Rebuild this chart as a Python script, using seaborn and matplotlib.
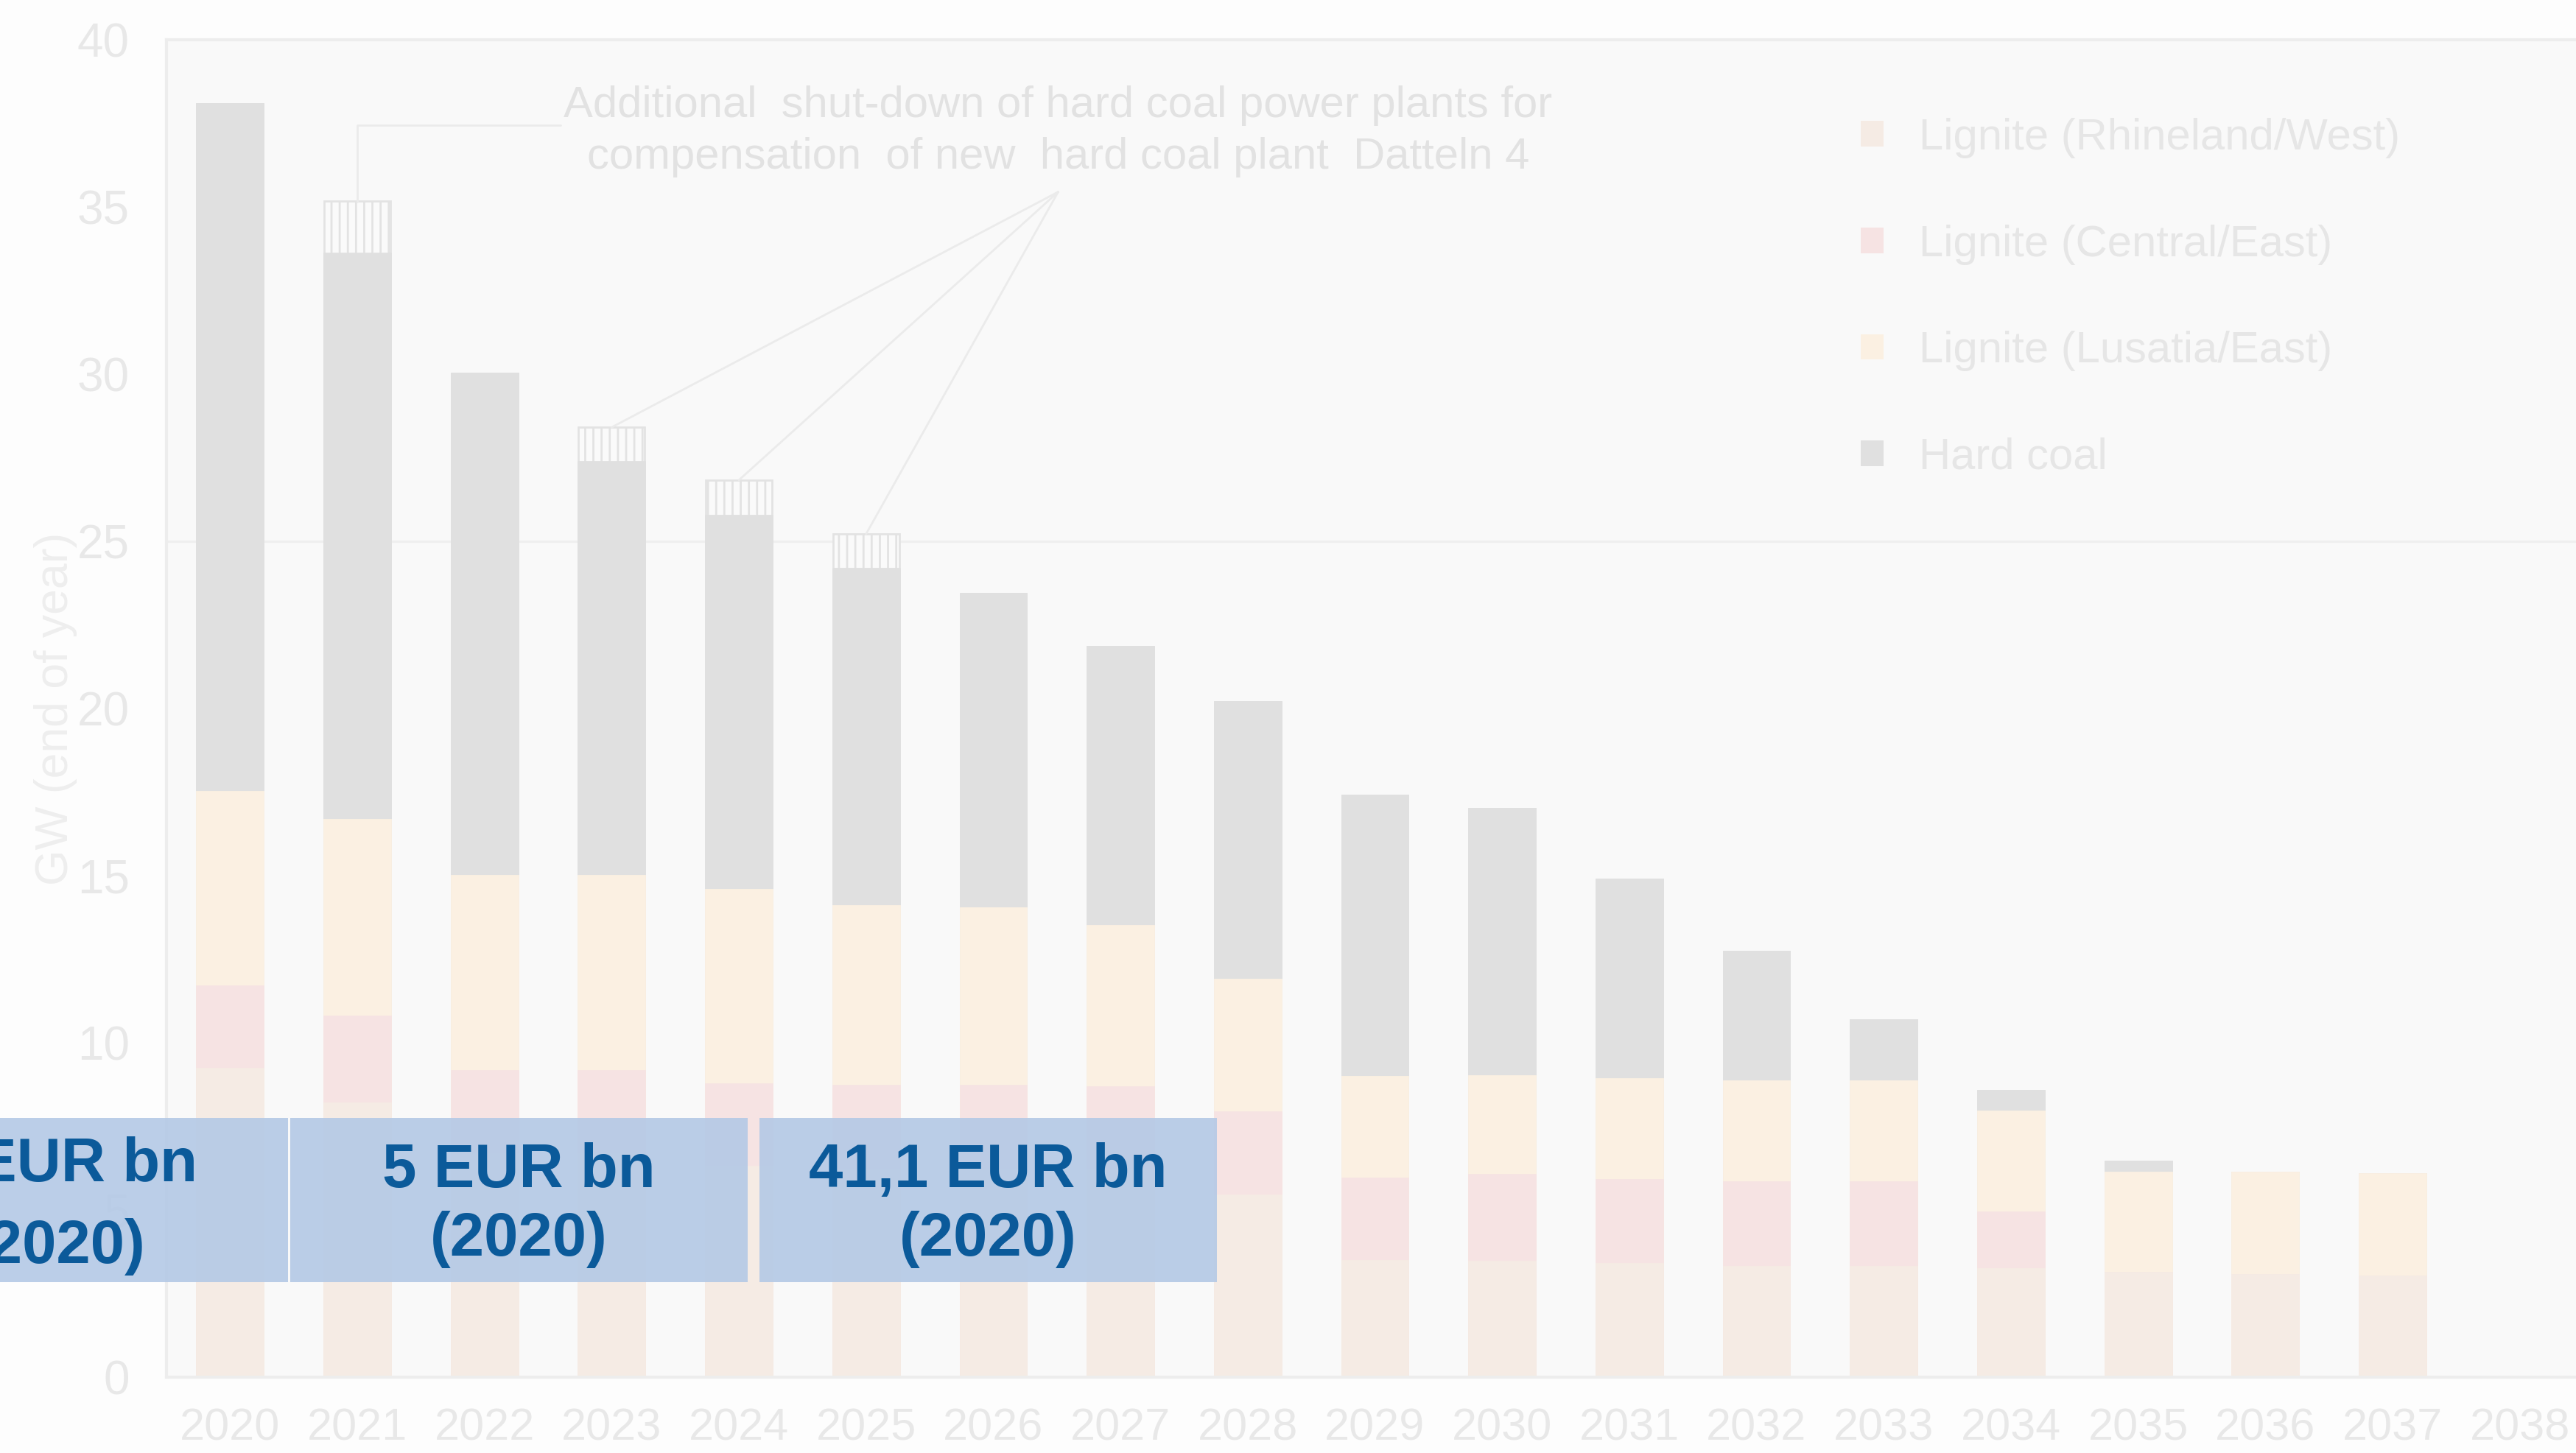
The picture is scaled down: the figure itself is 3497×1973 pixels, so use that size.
import numpy as np
import pandas as pd
import matplotlib
matplotlib.use("Agg")
import matplotlib.pyplot as plt
import seaborn as sns
from matplotlib.patches import Patch, Rectangle

# capacity per year (GW, end of year)
years = [str(y) for y in range(2020, 2039)]
rhineland = [9.24, 8.2, 6.7, 6.7, 6.3, 6.2, 6.2, 6.2, 5.44, 3.48, 3.46, 3.39, 3.31, 3.31, 3.24, 3.13, 3.06, 3.01, 0]
central = [2.46, 2.6, 2.47, 2.47, 2.47, 2.53, 2.53, 2.47, 2.49, 2.47, 2.6, 2.52, 2.53, 2.53, 1.69, 0, 0, 0, 0]
lusatia = [5.82, 5.87, 5.82, 5.82, 5.81, 5.37, 5.31, 4.83, 3.96, 3.04, 2.95, 3.02, 3.02, 3.02, 3.02, 2.99, 3.07, 3.07, 0]
hard_coal = [20.57, 16.95, 15.04, 12.39, 11.18, 10.09, 9.39, 8.36, 8.31, 8.4, 8.0, 5.97, 3.87, 1.83, 0.61, 0.33, 0, 0, 0]
datteln_extra = [0, 1.55, 0, 1.03, 1.07, 1.03, 0, 0, 0, 0, 0, 0, 0, 0, 0, 0, 0, 0, 0]

series_names = ["Lignite (Rhineland/West)", "Lignite (Central/East)", "Lignite (Lusatia/East)", "Hard coal"]
series_colors = ["#f5ebe4", "#f6e3e3", "#fbf0e2", "#e0e0e0"]

note_text = ("Additional  shut-down of hard coal power plants for\n"
             "compensation  of new  hard coal plant  Datteln 4")
box_texts = ["5 EUR bn\n(2020)", "41,1 EUR bn\n(2020)"]

sns.set_theme(style="white")
plt.rcParams["font.family"] = ["Liberation Sans", "DejaVu Sans"]
plt.rcParams["hatch.linewidth"] = 1.0
plt.rcParams["hatch.color"] = "#e3e3e3"

W, H = 3498, 1973
fig = plt.figure(figsize=(W / 200, H / 200), dpi=200, facecolor="#fdfdfd")
ax = fig.add_axes([226 / W, 1 - 1870 / H, 3281 / W, 1816 / H])
ax.set_facecolor("#f9f9f9")

# stacked bars: draw cumulative totals, tallest first
layers = np.array([rhineland, central, lusatia, hard_coal, datteln_extra])
cum = layers.cumsum(axis=0)

sns.barplot(x=years, y=cum[4], order=years, color="#fafafa", saturation=1, width=0.52,
            errorbar=None, linewidth=1, hatch="|||", edgecolor="#e3e3e3", ax=ax)
for i in [3, 2, 1, 0]:
    sns.barplot(x=years, y=cum[i], order=years, color=series_colors[i], saturation=1,
                width=0.52, errorbar=None, linewidth=1, edgecolor=series_colors[i], ax=ax)

ax.set_ylim(0, 40)
ax.set_xlim(-0.5, 18.5)
ax.set_yticks(range(0, 41, 5))
ax.axhline(25, color="#efefef", lw=1.2, zorder=0)
ax.tick_params(axis="both", length=0, labelcolor="#e8e8e8")
ax.tick_params(axis="x", pad=15, labelsize=22)
ax.tick_params(axis="y", pad=18, labelsize=23)
ax.set_xlabel("")
ax.set_ylabel("GW (end of year)", fontsize=22.5, color="#eeeeee")
ax.yaxis.set_label_coords(-0.037, 0.5)
for side in ["left", "top", "bottom"]:
    ax.spines[side].set_color("#ededed")
    ax.spines[side].set_linewidth(1.5)
ax.spines["right"].set_visible(False)

# annotation for Datteln 4 compensation
lc = "#ebebeb"
ax.plot([1, 1, 2.6], [35.15, 37.45, 37.45], color=lc, lw=1, clip_on=False)
for xb in [3, 4, 5]:
    ax.plot([xb, 6.51], [cum[4][xb], 35.45], color=lc, lw=1, clip_on=False)
ax.text(6.51, 37.25, note_text, ha="center", va="center", fontsize=21.5,
        color="#e2e2e2", linespacing=1.35)

# legend
handles = [Patch(facecolor=c, edgecolor="none") for c in series_colors]
fig.legend(handles, series_names, loc="upper left", bbox_to_anchor=(2526 / W, 1 - 160 / H),
           frameon=False, fontsize=21.5, labelcolor="#e6e6e6", handlelength=0.52,
           handleheight=0.52, handletextpad=0.8, labelspacing=1.5, borderpad=0,
           borderaxespad=0)

# blue cost boxes
box_color = "#b4c9e6"
text_color = "#0b5a9a"
box_spans = [(-2.5, 0.455), (0.47, 4.07), (4.16, 7.76)]
for x0, x1 in box_spans:
    ax.add_patch(Rectangle((x0, 2.84), x1 - x0, 4.91, facecolor=box_color, alpha=0.9,
                           edgecolor="none", zorder=5, clip_on=False))
for (x0, x1), t in zip(box_spans[1:], box_texts):
    ax.text((x0 + x1) / 2, 5.15, t, ha="center", va="center", fontsize=30,
            fontweight="bold", color=text_color, linespacing=1.25, zorder=6)
# first box is cut by the left edge of the picture
ax.text(-0.255, 6.35, "EUR bn", ha="right", va="center", fontsize=30,
        fontweight="bold", color=text_color, zorder=6, clip_on=False)
ax.text(-1.36, 3.9, "(2020)", ha="center", va="center", fontsize=30,
        fontweight="bold", color=text_color, zorder=6, clip_on=False)

fig.savefig("out.png", dpi=200, facecolor=fig.get_facecolor())
